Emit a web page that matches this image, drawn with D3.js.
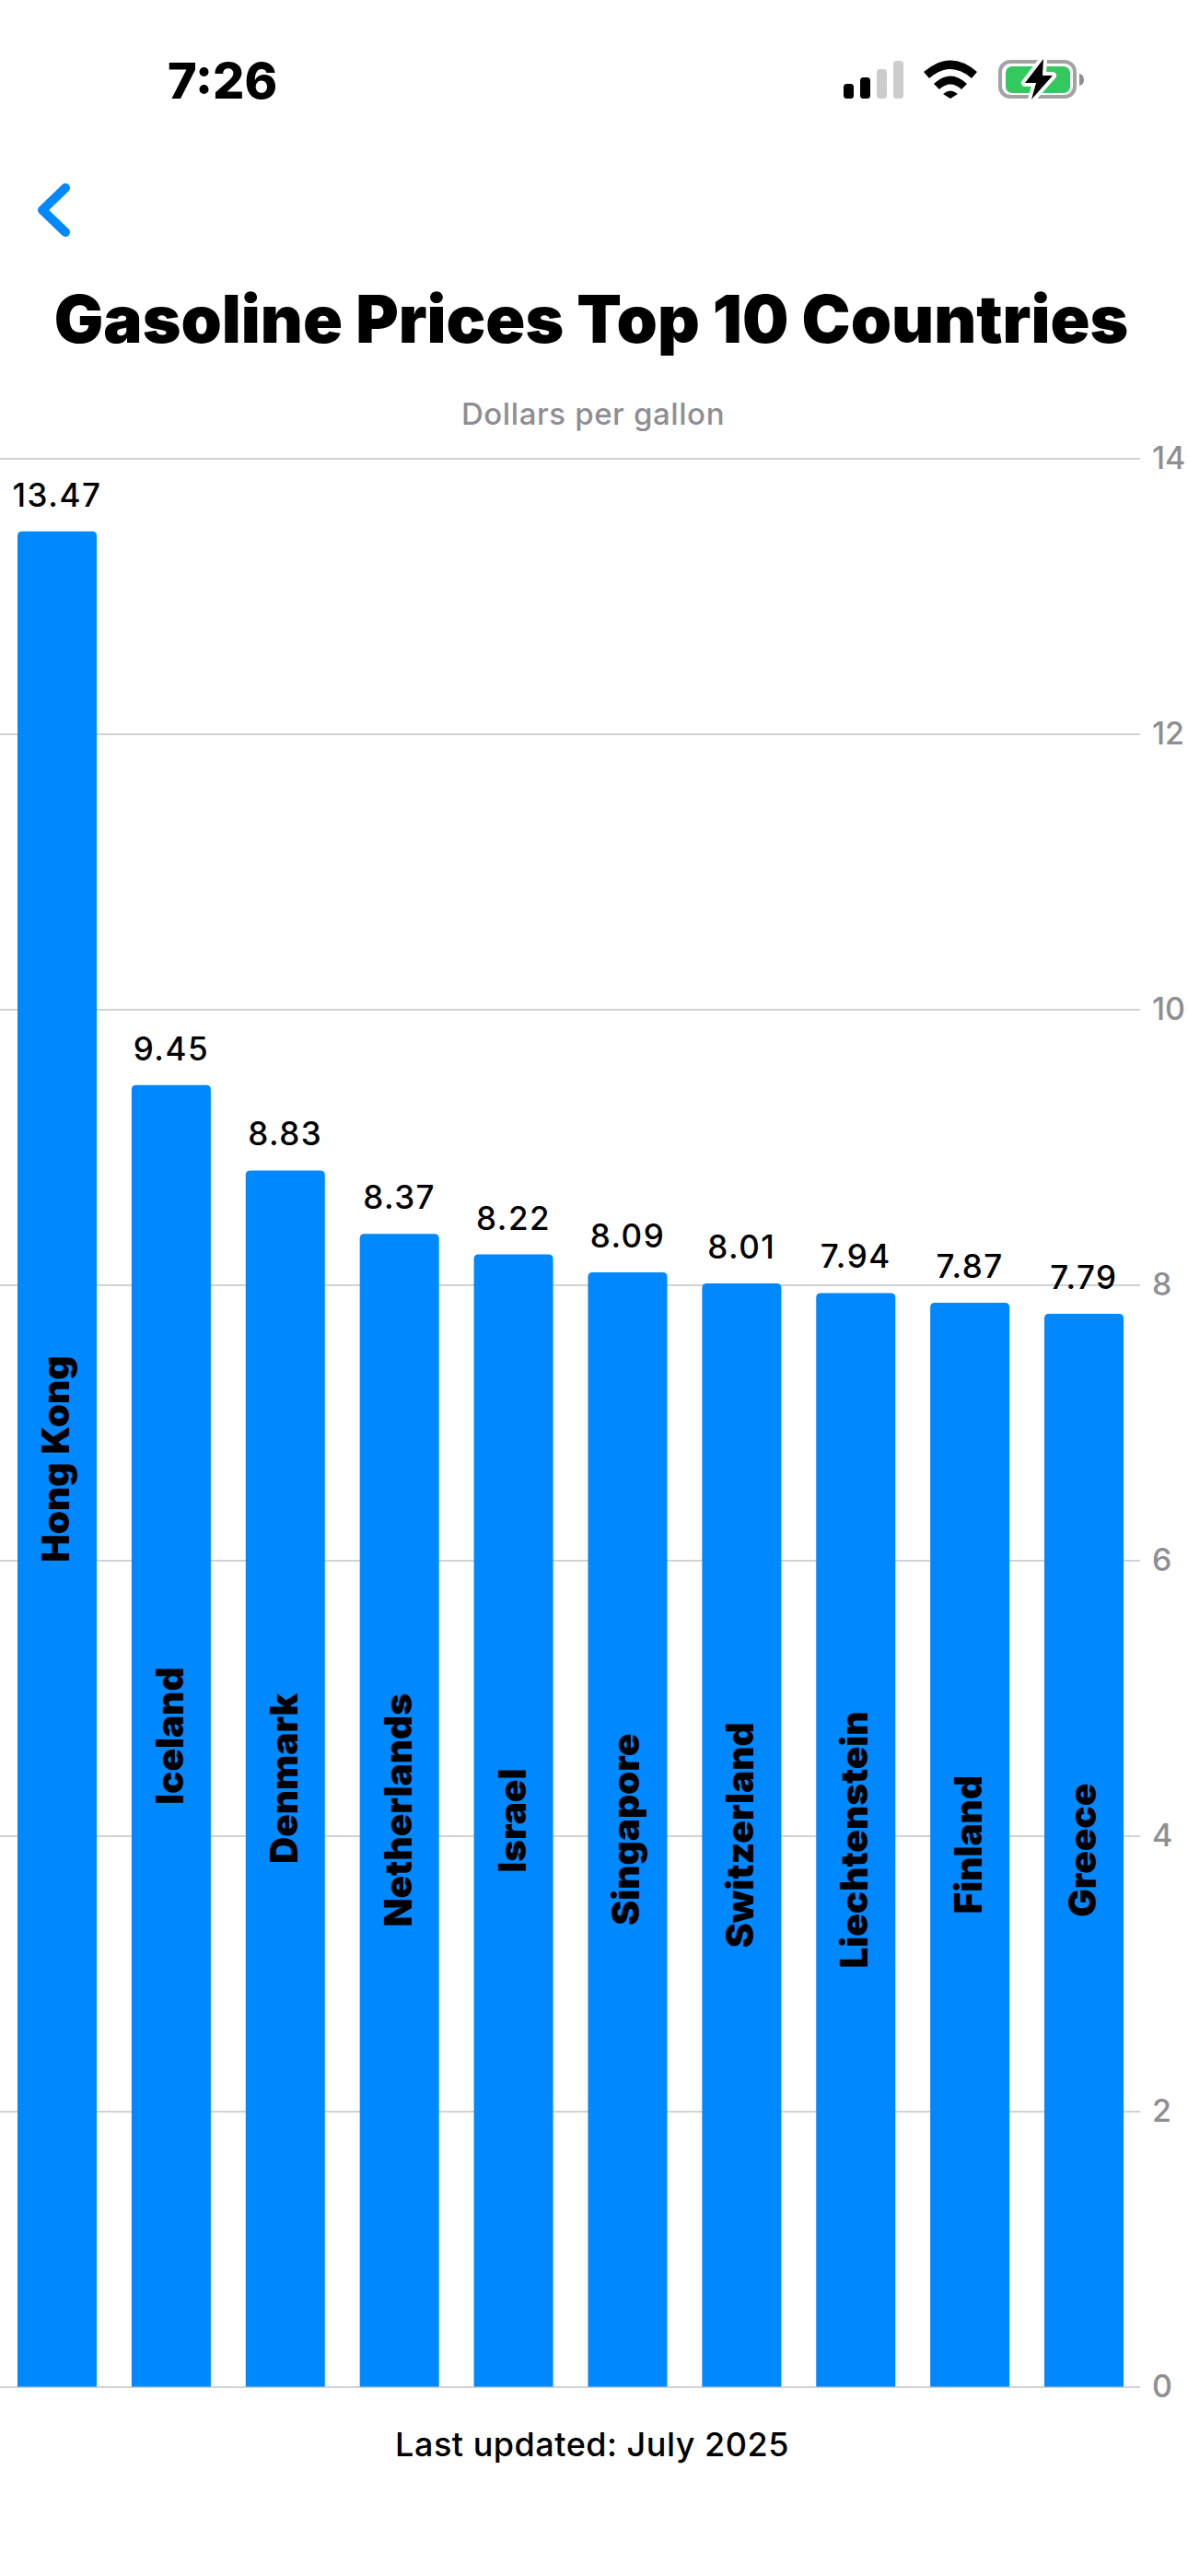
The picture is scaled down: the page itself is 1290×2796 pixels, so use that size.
<!DOCTYPE html>
<html>
<head>
<meta charset="utf-8">
<title>Gasoline Prices Top 10 Countries</title>
<script src="https://cdn.jsdelivr.net/npm/d3@7"></script>
<style>
  body { margin: 0; background: #fff; }
  text { font-family: Inter, "Noto Sans", sans-serif; }
  .grid line { stroke: #d2d2d4; stroke-width: 2; }
  .grid path { display: none; }
  .grid text { fill: #8e8e93; font-size: 34px; font-weight: 500; }
</style>
</head>
<body>
<script>
// chart data
var countries = ["Hong Kong", "Iceland", "Denmark", "Netherlands", "Israel", "Singapore", "Switzerland", "Liechtenstein", "Finland", "Greece"];
var prices = [13.47, 9.45, 8.83, 8.37, 8.22, 8.09, 8.01, 7.94, 7.87, 7.79];
var priceLabels = ["13.47", "9.45", "8.83", "8.37", "8.22", "8.09", "8.01", "7.94", "7.87", "7.79"];
var yTicks = [0, 2, 4, 6, 8, 10, 12, 14];

var w = 1290;
var h = 2796;
var blue = "#0088ff";

var svg = d3.select("body").append("svg")
      .attr("width", w)
      .attr("height", h)
      .style("display", "block");

// scales
var xScale = d3.scaleBand()
      .domain(countries)
      .range([19, 1220])
      .paddingInner(0.306)
      .paddingOuter(0);

var yScale = d3.scaleLinear()
      .domain([0, 14])
      .range([2590.5, 497.5]);

// gridlines and right hand axis
var yAxis = d3.axisRight(yScale)
      .tickValues(yTicks)
      .tickSize(-1238)
      .tickPadding(13);

svg.append("g")
      .attr("class", "grid")
      .attr("transform", "translate(1238,0)")
      .call(yAxis);

// bars, only the top corners are rounded
var r = 5;
function barPath(d, i) {
      var x0 = xScale(countries[i]);
      var x1 = x0 + xScale.bandwidth();
      var p = d3.path();
      p.moveTo(x0, yScale(0));
      p.lineTo(x0, yScale(d) + r);
      p.quadraticCurveTo(x0, yScale(d), x0 + r, yScale(d));
      p.lineTo(x1 - r, yScale(d));
      p.quadraticCurveTo(x1, yScale(d), x1, yScale(d) + r);
      p.lineTo(x1, yScale(0));
      p.closePath();
      return p.toString();
}

svg.selectAll("path.bar")
      .data(prices)
      .enter()
      .append("path")
      .attr("class", "bar")
      .attr("fill", blue)
      .attr("d", barPath);

function barMid(i) {
      return xScale(countries[i]) + xScale.bandwidth() / 2;
}

// value above each bar
svg.selectAll("text.value")
      .data(prices)
      .enter()
      .append("text")
      .attr("class", "value")
      .attr("x", function(d, i) { return barMid(i); })
      .attr("y", function(d) { return yScale(d) - 27; })
      .attr("text-anchor", "middle")
      .attr("font-size", 35)
      .attr("font-weight", 500)
      .attr("letter-spacing", 1.5)
      .attr("fill", "#000")
      .text(function(d, i) { return priceLabels[i]; });

// country name turned up the middle of the bar
svg.selectAll("text.country")
      .data(prices)
      .enter()
      .append("text")
      .attr("class", "country")
      .attr("transform", function(d, i) {
            return "translate(" + (barMid(i) + 13) + "," + yScale(d / 2) + ") rotate(-90)";
      })
      .attr("text-anchor", "middle")
      .attr("font-size", 40.5)
      .attr("font-weight", 900)
      .attr("word-spacing", 1)
      .attr("fill", "#000")
      .text(function(d, i) { return countries[i]; });

// titles
svg.append("text")
      .attr("x", 642)
      .attr("y", 372)
      .attr("text-anchor", "middle")
      .attr("font-size", 71)
      .attr("font-weight", 900)
      .text("Gasoline Prices Top 10 Countries");

svg.append("text")
      .attr("x", 644)
      .attr("y", 461)
      .attr("text-anchor", "middle")
      .attr("font-size", 33)
      .attr("font-weight", 500)
      .attr("letter-spacing", 0.6)
      .attr("fill", "#8e8e93")
      .text("Dollars per gallon");

svg.append("text")
      .attr("x", 643)
      .attr("y", 2666)
      .attr("text-anchor", "middle")
      .attr("font-size", 36)
      .attr("font-weight", 550)
      .attr("letter-spacing", 0.5)
      .attr("fill", "#000")
      .text("Last updated: July 2025");

// phone status bar and back button
svg.append("text")
      .attr("x", 182)
      .attr("y", 107)
      .attr("font-size", 54)
      .attr("font-weight", 800)
      .text("7:26");

svg.append("path")
      .attr("d", "M71 204L46 228L71 252")
      .attr("fill", "none")
      .attr("stroke", blue)
      .attr("stroke-width", 10)
      .attr("stroke-linecap", "round")
      .attr("stroke-linejoin", "round");

var signal = svg.append("g");
signal.append("rect").attr("x", 916).attr("y", 91).attr("width", 11).attr("height", 16).attr("rx", 3.5);
signal.append("rect").attr("x", 934).attr("y", 84).attr("width", 11).attr("height", 23).attr("rx", 3.5);
signal.append("rect").attr("x", 952).attr("y", 75).attr("width", 11).attr("height", 32).attr("rx", 3.5).attr("fill", "#cccccc");
signal.append("rect").attr("x", 970).attr("y", 66).attr("width", 11).attr("height", 41).attr("rx", 3.5).attr("fill", "#cccccc");

// wifi
svg.append("path").attr("d", "M1003 78Q1032 53 1061 78L1055 85Q1032 65 1009 85Z");
svg.append("path").attr("d", "M1014 91Q1032 74 1050 91L1044 97Q1032 86 1020 97Z");
svg.append("path").attr("d", "M1024 102Q1032 95 1040 102L1032 107Z");

// battery
svg.append("rect").attr("x", 1086).attr("y", 67).attr("width", 81).attr("height", 38).attr("rx", 11)
      .attr("fill", "none").attr("stroke", "#a3a3a6").attr("stroke-width", 4);
svg.append("rect").attr("x", 1092).attr("y", 72).attr("width", 70).attr("height", 29).attr("rx", 7).attr("fill", "#34c95f");
svg.append("path").attr("d", "M1172 80Q1177 81 1177 87Q1177 92 1172 93Z").attr("fill", "#8e8e90");
svg.append("path")
      .attr("d", "M1133 64L1113 90L1125 90L1120 108L1143 82L1132 82Z")
      .attr("fill", "#000")
      .attr("stroke", "#fff")
      .attr("stroke-width", 8)
      .attr("paint-order", "stroke")
      .attr("stroke-linejoin", "round");
</script>
</body>
</html>
